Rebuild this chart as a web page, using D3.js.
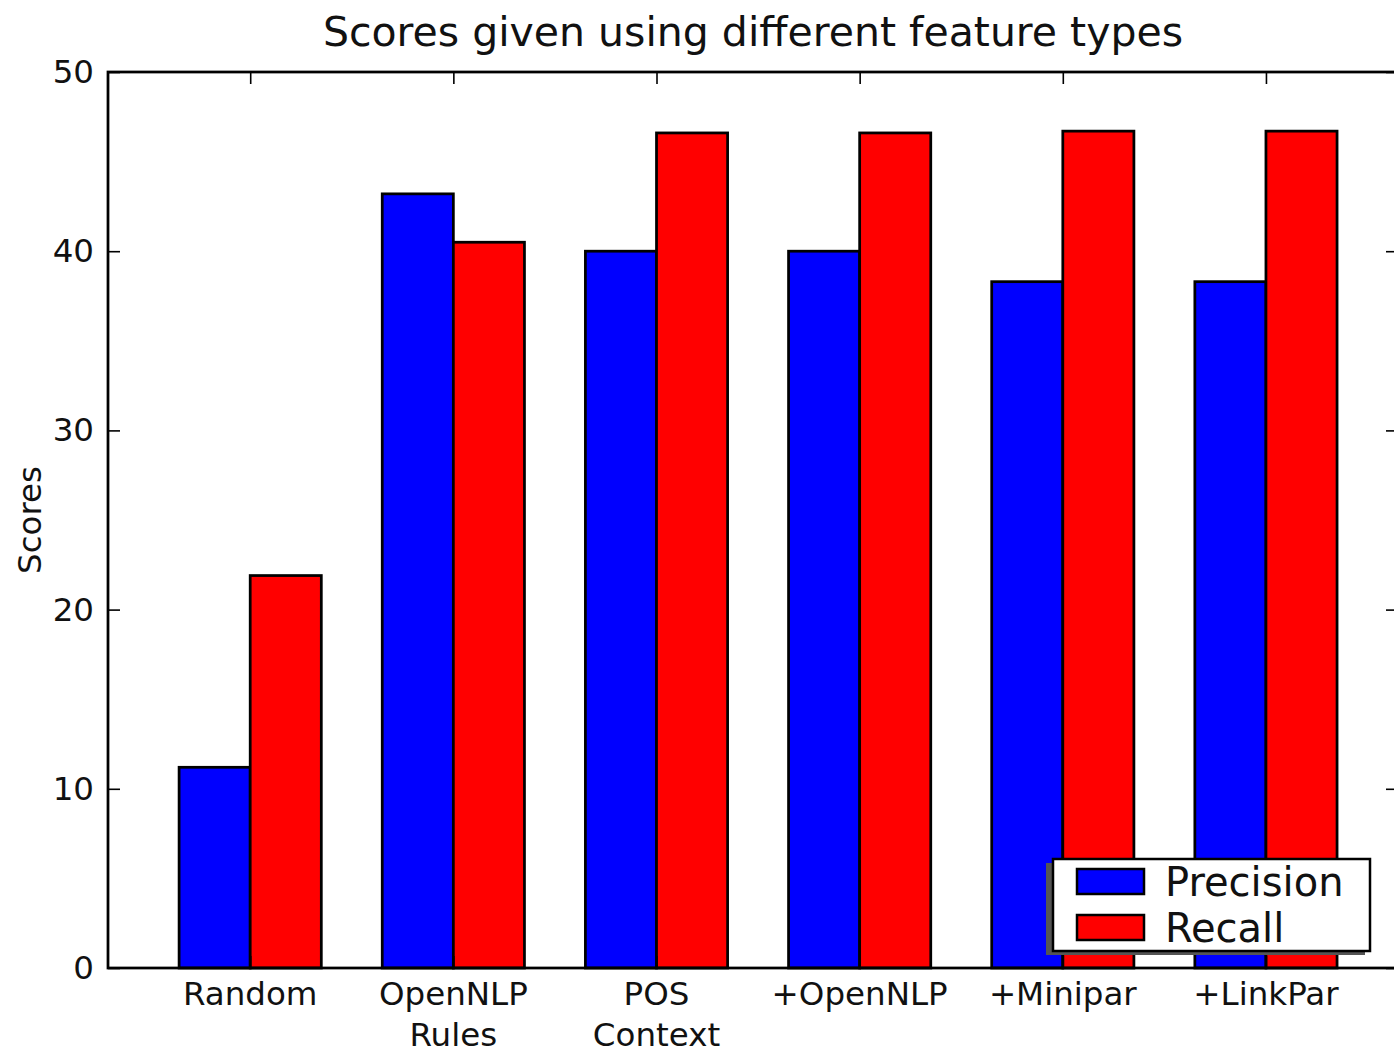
<!DOCTYPE html>
<html>
<head>
<meta charset="utf-8">
<script src="https://cdn.jsdelivr.net/npm/d3@7"></script>
<style>
  html, body { margin: 0; padding: 0; background: #fff; }
  svg { display: block; font-family: "DejaVu Sans", sans-serif; }
</style>
</head>
<body>
<svg id="chart" width="1394" height="1054"></svg>
<script>
const categories = [["Random"], ["OpenNLP", "Rules"], ["POS", "Context"], ["+OpenNLP"], ["+Minipar"], ["+LinkPar"]];
const precision = [11.2, 43.2, 40.0, 40.0, 38.3, 38.3];
const recall = [21.9, 40.5, 46.6, 46.6, 46.7, 46.7];
const seriesNames = ["Precision", "Recall"];
const seriesColors = ["#0000ff", "#ff0000"];
const yTicks = [0, 10, 20, 30, 40, 50];
const barWidth = 0.35;
const titleText = "Scores given using different feature types";
const yLabelText = "Scores";

const svg = d3.select("#chart");
const pLeft = 108, pRight = 1398, pTop = 72, pBottom = 968;

const x = d3.scaleLinear().domain([-0.35, 6.0]).range([pLeft, pRight]);
const y = d3.scaleLinear().domain([0, 50]).range([pBottom, pTop]);

const series = [precision, recall];
const g = svg.append("g");

// bars
series.forEach((vals, s) => {
  g.selectAll(null).data(vals).enter().append("rect")
    .attr("x", (d, i) => x(i + s * barWidth))
    .attr("width", (d, i) => x(i + (s + 1) * barWidth) - x(i + s * barWidth))
    .attr("y", d => y(d))
    .attr("height", d => y(0) - y(d))
    .attr("fill", seriesColors[s])
    .attr("stroke", "#000")
    .attr("stroke-width", 2.75);
});

// frame
g.append("rect")
  .attr("x", pLeft).attr("y", pTop)
  .attr("width", pRight - pLeft).attr("height", pBottom - pTop)
  .attr("fill", "none").attr("stroke", "#000").attr("stroke-width", 2.75);

const tickPos = categories.map((c, i) => i + barWidth);

// left axis
const yAxis = d3.axisLeft(y).tickValues(yTicks).tickSize(-12).tickPadding(14).tickFormat(d3.format("d"));
const ya = g.append("g").attr("transform", `translate(${pLeft},0)`).call(yAxis);
ya.select(".domain").remove();
ya.selectAll("line").attr("stroke", "#000").attr("stroke-width", 1.6);
ya.selectAll("text").attr("font-size", 32.5).attr("fill", "#111").attr("font-family", "DejaVu Sans, sans-serif");

// right axis ticks
const yAxisR = d3.axisRight(y).tickValues(yTicks).tickSize(-12).tickFormat("");
const yr = g.append("g").attr("transform", `translate(${pRight},0)`).call(yAxisR);
yr.select(".domain").remove();
yr.selectAll("line").attr("stroke", "#000").attr("stroke-width", 1.6);

// bottom axis
const xAxis = d3.axisBottom(x).tickValues(tickPos).tickSize(-12).tickFormat("");
const xa = g.append("g").attr("transform", `translate(0,${pBottom})`).call(xAxis);
xa.select(".domain").remove();
xa.selectAll("line").attr("stroke", "#000").attr("stroke-width", 1.6);

// top axis ticks
const xAxisT = d3.axisTop(x).tickValues(tickPos).tickSize(-12).tickFormat("");
const xt = g.append("g").attr("transform", `translate(0,${pTop})`).call(xAxisT);
xt.select(".domain").remove();
xt.selectAll("line").attr("stroke", "#000").attr("stroke-width", 1.6);

// x tick labels (multi-line)
categories.forEach((lines, i) => {
  const t = g.append("text")
    .attr("x", x(tickPos[i]))
    .attr("y", pBottom + 37)
    .attr("text-anchor", "middle")
    .attr("font-size", 32.5)
    .attr("fill", "#111");
  lines.forEach((ln, k) => {
    t.append("tspan").attr("x", x(tickPos[i])).attr("dy", k === 0 ? 0 : 41).text(ln);
  });
});

// title
svg.append("text")
  .attr("x", (pLeft + pRight) / 2)
  .attr("y", 46)
  .attr("text-anchor", "middle")
  .attr("font-size", 41)
  .attr("fill", "#111")
  .text(titleText);

// y label
svg.append("text")
  .attr("transform", `translate(41,${(pTop + pBottom) / 2}) rotate(-90)`)
  .attr("text-anchor", "middle")
  .attr("font-size", 32.5)
  .attr("fill", "#111")
  .text(yLabelText);

// legend
const lg = svg.append("g");
lg.append("rect").attr("x", 1046).attr("y", 863).attr("width", 319).attr("height", 92).attr("fill", "#555");
lg.append("rect").attr("x", 1053).attr("y", 859).attr("width", 317).attr("height", 92)
  .attr("fill", "#fff").attr("stroke", "#000").attr("stroke-width", 2.5);
seriesNames.forEach((name, s) => {
  lg.append("rect").attr("x", 1077).attr("y", 869 + s * 46).attr("width", 67).attr("height", 25)
    .attr("fill", seriesColors[s]).attr("stroke", "#000").attr("stroke-width", 2.5);
  lg.append("text").attr("x", 1165).attr("y", 896 + s * 45.5)
    .attr("font-size", 40).attr("fill", "#111").text(name);
});
</script>
</body>
</html>
